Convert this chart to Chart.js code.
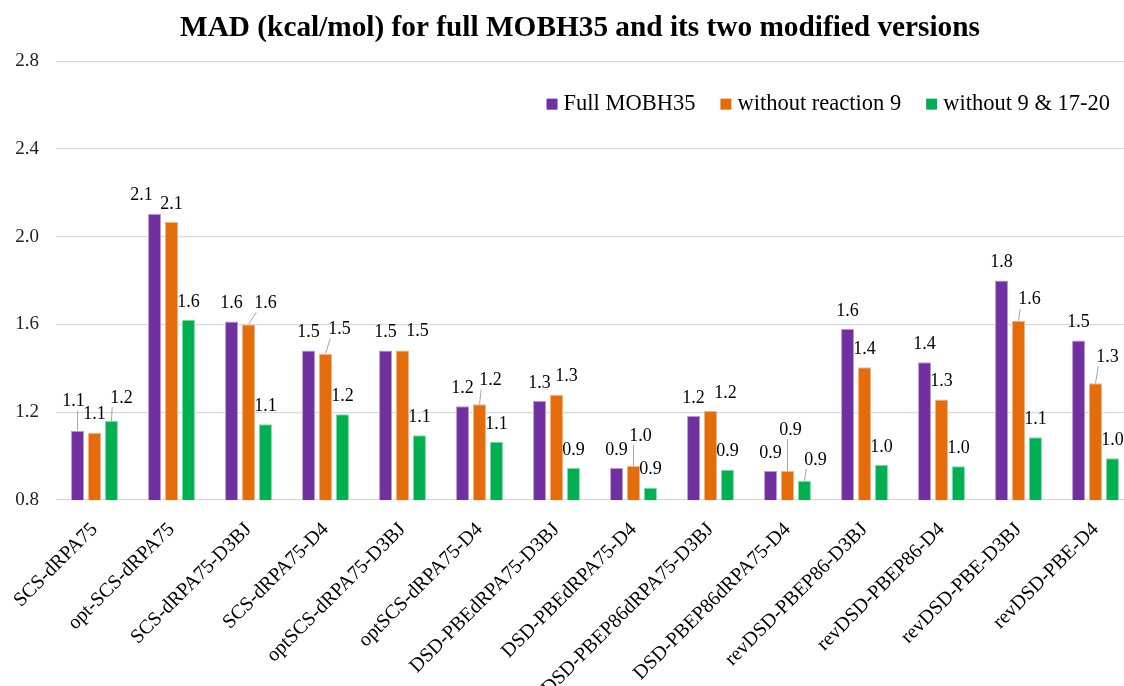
<!DOCTYPE html>
<html>
<head>
<meta charset="utf-8">
<script src="https://cdn.jsdelivr.net/npm/chart.js@4.4.1/dist/chart.umd.min.js"></script>
<style>
  html, body { margin: 0; padding: 0; background: #fff; overflow: hidden; }
  #chart { display: block; }
</style>
</head>
<body>
<canvas id="chart" width="1160" height="686"></canvas>
<script>
const methods = [
  'SCS-dRPA75', 'opt-SCS-dRPA75', 'SCS-dRPA75-D3BJ', 'SCS-dRPA75-D4',
  'optSCS-dRPA75-D3BJ', 'optSCS-dRPA75-D4', 'DSD-PBEdRPA75-D3BJ', 'DSD-PBEdRPA75-D4',
  'DSD-PBEP86dRPA75-D3BJ', 'DSD-PBEP86dRPA75-D4', 'revDSD-PBEP86-D3BJ', 'revDSD-PBEP86-D4',
  'revDSD-PBE-D3BJ', 'revDSD-PBE-D4'
];
const seriesNames = ['Full MOBH35', 'without reaction 9', 'without 9 & 17-20'];
const fullMobh35 = [1.116, 2.105, 1.613, 1.481, 1.481, 1.227, 1.252, 0.946, 1.183, 0.932, 1.579, 1.428, 1.800, 1.527];
const withoutR9 = [1.107, 2.067, 1.600, 1.467, 1.481, 1.236, 1.280, 0.955, 1.206, 0.932, 1.405, 1.258, 1.617, 1.332];
const without9and17to20 = [1.160, 1.621, 1.145, 1.191, 1.095, 1.065, 0.946, 0.856, 0.938, 0.887, 0.960, 0.954, 1.086, 0.990];
const yTicks = [0.8, 1.2, 1.6, 2.0, 2.4, 2.8];

const colors = ['#7030A0', '#E46C0A', '#00B050'];
const edgeColors = ['#b79ad0', '#f2b587', '#80d8a8'];

// hand placement of value labels that Excel moved off the bar top, [dx, dy] in px
const labelNudge = [
  { 0: [-4, -11], 1: [-13, 0] },
  { 2: [17, -3], 3: [14, -6], 4: [15, -1], 5: [11, -6], 6: [10, 0], 7: [7, -12], 8: [15, 0], 9: [3, -23], 12: [11, -3], 13: [12, -8] },
  { 0: [10, -5], 9: [11, -3] }
];

const serif = "'Liberation Serif', 'Times New Roman', serif";

const valueLabels = {
  id: 'valueLabels',
  afterDatasetsDraw(chart) {
    const ctx = chart.ctx;
    ctx.save();
    ctx.font = '18px ' + serif;
    ctx.textAlign = 'center';
    ctx.textBaseline = 'middle';
    chart.data.datasets.forEach((ds, si) => {
      chart.getDatasetMeta(si).data.forEach((bar, i) => {
        const nudge = labelNudge[si][i] || [0, 0];
        const text = ds.data[i].toFixed(1);
        const x = bar.x + nudge[0];
        const y = bar.y - 18 + nudge[1];
        const w = ctx.measureText(text).width;
        const boxBottom = y + 7;
        const gapY = bar.y - boxBottom;
        const gapX = Math.max(0, (x - w / 2) - (bar.x + bar.width / 2), (bar.x - bar.width / 2) - (x + w / 2));
        // Excel only adds a leader line once the label is pulled clear of the bar
        if (Math.hypot(gapX, gapY) > 13) {
          const tx = Math.min(Math.max(bar.x, x - w / 2 + 2), x + w / 2 - 2);
          ctx.strokeStyle = '#a6a6a6';
          ctx.lineWidth = 1;
          ctx.beginPath();
          ctx.moveTo(bar.x, bar.y);
          ctx.lineTo(tx, boxBottom + 2);
          ctx.stroke();
        }
        ctx.fillStyle = '#000';
        ctx.fillText(text, x, y);
      });
    });
    ctx.restore();
  }
};

const insideLegend = {
  id: 'insideLegend',
  afterDraw(chart) {
    const ctx = chart.ctx;
    const area = chart.chartArea;
    ctx.save();
    ctx.font = '22.5px ' + serif;
    ctx.textBaseline = 'middle';
    const box = 11, gap = 6, spacing = 25;
    const widths = chart.data.datasets.map(ds => ctx.measureText(ds.label).width);
    const total = widths.reduce((a, b) => a + b, 0) + widths.length * (box + gap) + spacing * (widths.length - 1);
    let x = area.right - 24 - total;
    const y = area.top + 43;
    chart.data.datasets.forEach((ds, i) => {
      ctx.fillStyle = ds.backgroundColor;
      ctx.fillRect(x, y - box / 2, box, box);
      x += box + gap;
      ctx.fillStyle = '#000';
      ctx.fillText(ds.label, x, y);
      x += widths[i] + spacing;
    });
    ctx.restore();
  }
};

new Chart(document.getElementById('chart'), {
  type: 'bar',
  data: {
    labels: methods,
    datasets: [fullMobh35, withoutR9, without9and17to20].map((vals, i) => ({
      label: seriesNames[i],
      data: vals,
      backgroundColor: colors[i],
      borderColor: edgeColors[i],
      borderWidth: 1,
      categoryPercentage: 0.66,
      barPercentage: 0.77
    }))
  },
  options: {
    responsive: false,
    animation: false,
    layout: { padding: 0 },
    plugins: {
      legend: { display: false },
      tooltip: { enabled: false },
      title: {
        display: true,
        text: 'MAD (kcal/mol) for full MOBH35 and its two modified versions',
        color: '#000',
        font: { family: serif, size: 29.3, weight: 'bold' },
        padding: { top: 11, bottom: 15 }
      }
    },
    scales: {
      x: {
        grid: { display: false },
        border: { display: false },
        ticks: {
          autoSkip: false,
          maxRotation: 45,
          minRotation: 45,
          padding: 10,
          color: '#000',
          font: { family: serif, size: 20 }
        },
        afterFit(scale) { scale.height = 186; }
      },
      y: {
        min: 0.8,
        max: 2.8,
        afterBuildTicks(scale) { scale.ticks = yTicks.map(v => ({ value: v })); },
        grid: { color: '#d9d9d9', lineWidth: 1.3, drawTicks: false },
        border: { display: false },
        ticks: {
          padding: 17,
          color: '#222',
          font: { family: serif, size: 19 },
          callback: v => v.toFixed(1)
        },
        afterFit(scale) { scale.width = 56; }
      },
      // empty right-hand spacer so the plot ends short of the canvas edge
      yRight: {
        type: 'linear',
        axis: 'y',
        position: 'right',
        grid: { display: false },
        border: { display: false },
        ticks: { display: false },
        afterFit(scale) { scale.width = 26; }
      }
    }
  },
  plugins: [valueLabels, insideLegend]
});
</script>
</body>
</html>
